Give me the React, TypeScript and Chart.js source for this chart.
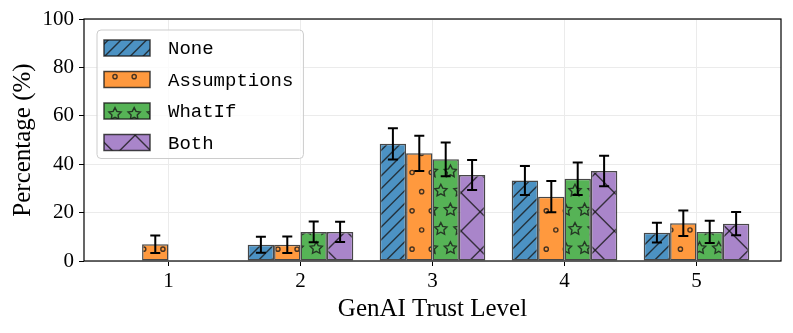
import React, { useEffect, useRef } from 'react';
import { Chart, registerables } from 'chart.js';

Chart.register(...registerables);

// ---------- data ----------
const categories = ['1', '2', '3', '4', '5'];
const seriesNames = ['None', 'Assumptions', 'WhatIf', 'Both'];
const noneValues = [0, 6.7, 48.4, 33.3, 11.7];
const noneErrors = [0, 3.3, 6.5, 6.0, 4.1];
const assumptionsValues = [6.9, 6.7, 44.5, 26.6, 15.6];
const assumptionsErrors = [3.6, 3.4, 7.3, 6.5, 5.3];
const whatIfValues = [0, 12.0, 42.0, 34.0, 12.0];
const whatIfErrors = [0, 4.3, 7.0, 6.7, 4.6];
const bothValues = [0, 12.0, 35.5, 37.2, 15.4];
const bothErrors = [0, 4.2, 6.2, 6.3, 4.8];
const yTickValues = [0, 20, 40, 60, 80, 100];

// ---------- styles ----------
const fillColors = ['#4c92c3', '#ff993e', '#56b356', '#a985ca'];
const hatchKinds = ['diag', 'circles', 'stars', 'cross'];
const EDGE = 'rgba(25,25,25,0.8)';
const SERIF = "'Liberation Serif', 'DejaVu Serif', serif";
const MONO = "'Liberation Mono', 'DejaVu Sans Mono', monospace";

const TILE = 230;

function makePattern(ctx: CanvasRenderingContext2D, kind: string, bg: string) {
  const c = document.createElement('canvas');
  c.width = TILE;
  c.height = TILE;
  const g = c.getContext('2d')!;
  g.fillStyle = bg;
  g.fillRect(0, 0, TILE, TILE);
  g.strokeStyle = EDGE;
  g.lineWidth = 1.4;
  const ne = (step: number, phase: number) => {
    for (let cc = phase - TILE; cc <= phase + 2 * TILE; cc += step) {
      g.beginPath();
      g.moveTo(cc + 10, -10);
      g.lineTo(cc - TILE - 10, TILE + 10);
      g.stroke();
    }
  };
  const nw = (step: number, phase: number) => {
    for (let cc = phase - TILE; cc <= phase + 2 * TILE; cc += step) {
      g.beginPath();
      g.moveTo(cc - 10, -10);
      g.lineTo(cc + TILE + 10, TILE + 10);
      g.stroke();
    }
  };
  const grid = (oy: number, draw: (x: number, y: number) => void) => {
    const p = TILE / 12;
    for (let r = -1; r <= 13; r++) {
      for (let k = -1; k <= 13; k++) {
        const x = k * p + (Math.abs(r) % 2 === 1 ? p / 2 : 0);
        const y = r * p + oy;
        draw(x, y);
      }
    }
  };
  if (kind === 'diag') {
    ne(TILE / 18, 7.6);
  } else if (kind === 'cross') {
    ne(TILE / 6, 2);
    nw(TILE / 6, 0);
  } else if (kind === 'circles') {
    grid(0, (x, y) => {
      g.beginPath();
      g.arc(x, y, 2.1, 0, Math.PI * 2);
      g.stroke();
    });
  } else if (kind === 'stars') {
    grid(-1, (x, y) => {
      g.beginPath();
      for (let i = 0; i < 10; i++) {
        const a = -Math.PI / 2 + (i * Math.PI) / 5;
        const rad = i % 2 === 0 ? 6.4 : 3.2;
        const px = x + rad * Math.cos(a);
        const py = y + rad * Math.sin(a);
        if (i === 0) g.moveTo(px, py);
        else g.lineTo(px, py);
      }
      g.closePath();
      g.stroke();
    });
  }
  return ctx.createPattern(c, 'repeat') as CanvasPattern;
}

const valueSets = [noneValues, assumptionsValues, whatIfValues, bothValues];
const errorSets = [noneErrors, assumptionsErrors, whatIfErrors, bothErrors];

const decorPlugin = {
  id: 'decor',
  afterDatasetsDraw(chart: any) {
    const { ctx, chartArea: ca, scales } = chart;
    const yScale = scales.y;
    ctx.save();
    // error bars
    ctx.strokeStyle = '#000';
    ctx.lineWidth = 2;
    chart.data.datasets.forEach((ds: any, i: number) => {
      const meta = chart.getDatasetMeta(i);
      meta.data.forEach((el: any, j: number) => {
        const err = ds.errors[j];
        const v = ds.data[j].y;
        if (!err) return;
        const yt = yScale.getPixelForValue(v + err);
        const yb = yScale.getPixelForValue(v - err);
        const x = el.x;
        ctx.beginPath();
        ctx.moveTo(x, yt);
        ctx.lineTo(x, yb);
        ctx.moveTo(x - 5, yt);
        ctx.lineTo(x + 5, yt);
        ctx.moveTo(x - 5, yb);
        ctx.lineTo(x + 5, yb);
        ctx.stroke();
      });
    });
    // frame
    ctx.strokeStyle = '#000';
    ctx.lineWidth = 1.2;
    ctx.strokeRect(ca.left, ca.top, ca.right - ca.left, ca.bottom - ca.top);

    // legend
    ctx.font = `19px ${MONO}`;
    const labels = chart.data.datasets.map((d: any) => d.label);
    const maxW = Math.max(...labels.map((l: string) => ctx.measureText(l).width));
    const bx = ca.left + 13;
    const by = ca.top + 11;
    const bw = 71 + maxW + 10;
    const rowH = 31.5;
    const bh = 18 + rowH * (labels.length - 1) + 16;
    ctx.beginPath();
    ctx.roundRect(bx, by, bw, bh, 4);
    ctx.fillStyle = 'rgba(255,255,255,0.8)';
    ctx.fill();
    ctx.strokeStyle = '#cccccc';
    ctx.lineWidth = 1;
    ctx.stroke();
    chart.data.datasets.forEach((ds: any, i: number) => {
      const cy = by + 18 + i * rowH;
      const sx = bx + 7;
      const sy = cy - 8;
      ctx.fillStyle = ds.backgroundColor;
      ctx.fillRect(sx, sy, 46, 16);
      ctx.strokeStyle = EDGE;
      ctx.lineWidth = 1.5;
      ctx.strokeRect(sx, sy, 46, 16);
      ctx.fillStyle = '#000';
      ctx.textBaseline = 'middle';
      ctx.textAlign = 'left';
      ctx.fillText(ds.label, bx + 71, cy + 1);
    });
    ctx.restore();
  },
};

export default function App() {
  const ref = useRef<HTMLCanvasElement>(null);
  useEffect(() => {
    const canvas = ref.current!;
    const ctx = canvas.getContext('2d')!;
    const datasets = seriesNames.map((name, i) => ({
      label: name,
      data: valueSets[i].map((v, j) => ({ x: j + 1, y: v })),
      errors: errorSets[i],
      backgroundColor: makePattern(ctx, hatchKinds[i], fillColors[i]),
      borderColor: EDGE,
      borderWidth: 1.5,
      borderSkipped: false,
      categoryPercentage: 0.8,
      barPercentage: 1.0,
    }));
    const chart = new Chart(canvas, {
      type: 'bar',
      data: { datasets: datasets as any },
      options: {
        animation: false,
        responsive: true,
        maintainAspectRatio: false,
        layout: { padding: { top: 19, right: 12, left: 0, bottom: 0 } },
        plugins: { legend: { display: false }, tooltip: { enabled: false } },
        scales: {
          x: {
            type: 'linear',
            min: 0.36,
            max: 5.64,
            offset: false,
            afterFit: (s: any) => { s.height = 72; },
            afterBuildTicks: (s: any) => {
              s.ticks = categories.map((_, i) => ({ value: i + 1 }));
            },
            ticks: {
              callback: (v: any) => categories[Math.round(v) - 1] ?? '',
              font: { family: SERIF, size: 21 },
              color: '#000',
              padding: 3,
              maxRotation: 0,
            },
            grid: { color: '#ebebeb', tickColor: '#000', tickLength: 5, offset: false, lineWidth: 1 },
            border: { display: false },
            title: {
              display: true,
              text: 'GenAI Trust Level',
              font: { family: SERIF, size: 25 },
              color: '#000',
              padding: { top: 0, bottom: 9 },
            },
          },
          y: {
            min: 0,
            max: 100,
            afterFit: (s: any) => { s.width = 84; },
            afterBuildTicks: (s: any) => {
              s.ticks = yTickValues.map((v) => ({ value: v }));
            },
            ticks: {
              font: { family: SERIF, size: 21 },
              color: '#000',
              padding: 5,
            },
            grid: { color: '#ebebeb', tickColor: '#000', tickLength: 5, lineWidth: 1 },
            border: { display: false },
            title: {
              display: true,
              text: 'Percentage (%)',
              font: { family: SERIF, size: 25 },
              color: '#000',
              padding: { top: 8, bottom: 0 },
            },
          },
        },
      },
      plugins: [decorPlugin],
    });
    return () => chart.destroy();
  }, []);
  return (
    <div style={{ position: 'fixed', left: 0, top: 0, width: 793, height: 333 }}>
      <canvas ref={ref} />
    </div>
  );
}
